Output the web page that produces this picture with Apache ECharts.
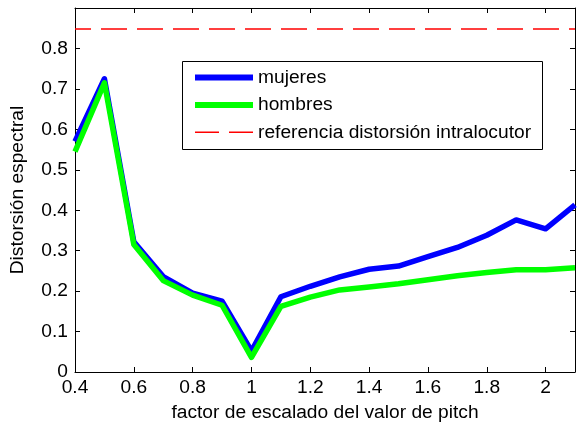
<!DOCTYPE html>
<html>
<head>
<meta charset="utf-8">
<script src="https://cdn.jsdelivr.net/npm/echarts@6/dist/echarts.min.js"></script>
<style>
html,body{margin:0;padding:0;background:#fff;}
#chart{width:578px;height:428px;}
</style>
</head>
<body>
<div id="chart"></div>
<script>
// Data
var xValues = [0.4, 0.5, 0.6, 0.7, 0.8, 0.9, 1.0, 1.1, 1.2, 1.3, 1.4, 1.5, 1.6, 1.7, 1.8, 1.9, 2.0, 2.1];
var mujeres = [0.57, 0.725, 0.322, 0.236, 0.195, 0.175, 0.052, 0.186, 0.212, 0.235, 0.254, 0.262, 0.285, 0.308, 0.338, 0.376, 0.354, 0.413];
var hombres = [0.545, 0.715, 0.315, 0.226, 0.19, 0.165, 0.036, 0.162, 0.185, 0.203, 0.21, 0.218, 0.228, 0.238, 0.246, 0.253, 0.253, 0.258];
var referenciaX = [0.4, 2.1];
var referenciaY = [0.848, 0.848];
var seriesNames = ['mujeres', 'hombres', 'referencia distorsión intralocutor'];
var xTitle = 'factor de escalado del valor de pitch';
var yTitle = 'Distorsión espectral';

function pairs(xs, ys) { return xs.map(function (x, i) { return [x, ys[i]]; }); }

var FONT = "'Liberation Sans', Arial, sans-serif";
var FS = 19.2;
var chart = echarts.init(document.getElementById('chart'), null, {renderer: 'canvas'});

function hideEnd(maxV) {
  return function (v) { return v > maxV + 1e-9 ? '' : String(+v.toFixed(2)); };
}

var axisCommon = {
  axisLine: {show: true, onZero: false, lineStyle: {color: '#000', width: 1}},
  axisTick: {show: true, inside: true, length: 5, lineStyle: {color: '#000', width: 1}},
  splitLine: {show: false}
};

var option = {
  animation: false,
  backgroundColor: '#fff',
  grid: {left: 75, right: 1, top: 8, bottom: 56, containLabel: false},
  xAxis: [
    Object.assign({
      type: 'value', min: 0.4, max: 2.1, interval: 0.2, position: 'bottom',
      name: xTitle, nameLocation: 'middle', nameGap: 31,
      nameTextStyle: {fontFamily: FONT, fontSize: FS, color: '#000'},
      axisLabel: {fontFamily: FONT, fontSize: FS, color: '#000', margin: 6, formatter: hideEnd(2.0)}
    }, axisCommon),
    Object.assign({
      type: 'value', min: 0.4, max: 2.1, interval: 0.2, position: 'top',
      axisLabel: {show: false}
    }, axisCommon)
  ],
  yAxis: [
    Object.assign({
      type: 'value', min: 0, max: 0.9, interval: 0.1, position: 'left',
      name: yTitle, nameLocation: 'middle', nameGap: 48,
      nameTextStyle: {fontFamily: FONT, fontSize: FS, color: '#000'},
      axisLabel: {fontFamily: FONT, fontSize: FS, color: '#000', margin: 7, formatter: hideEnd(0.8)}
    }, axisCommon),
    Object.assign({
      type: 'value', min: 0, max: 0.9, interval: 0.1, position: 'right',
      axisLabel: {show: false}
    }, axisCommon)
  ],
  graphic: [{
    type: 'rect', z: 3,
    shape: {x: 182.5, y: 61.5, width: 360, height: 88},
    style: {fill: '#fff', stroke: '#000', lineWidth: 1}
  }],
  legend: {
    z: 5,
    orient: 'vertical', left: 195, top: 68, padding: 0,
    itemWidth: 58, itemHeight: 6, itemGap: 8.4,
    textStyle: {fontFamily: FONT, fontSize: FS, color: '#000'},
    data: [
      {name: seriesNames[0], icon: 'path://M0,0H58V6H0Z', itemStyle: {color: '#0000ff'}},
      {name: seriesNames[1], icon: 'path://M0,0H58V6H0Z', itemStyle: {color: '#00ff00'}},
      {name: seriesNames[2], icon: 'path://M0,0M58,6M0,2.25H24V3.75H0ZM34,2.25H58V3.75H34Z', itemStyle: {color: '#ff0000'}}
    ]
  },
  series: [
    {
      name: seriesNames[0], type: 'line', xAxisIndex: 0, yAxisIndex: 0,
      data: pairs(xValues, mujeres), showSymbol: false, symbol: 'none',
      lineStyle: {color: '#0000ff', width: 5.5, join: 'round'}, itemStyle: {color: '#0000ff'}
    },
    {
      name: seriesNames[1], type: 'line', xAxisIndex: 0, yAxisIndex: 0,
      data: pairs(xValues, hombres), showSymbol: false, symbol: 'none',
      lineStyle: {color: '#00ff00', width: 5.5, join: 'round'}, itemStyle: {color: '#00ff00'}
    },
    {
      name: seriesNames[2], type: 'line', xAxisIndex: 0, yAxisIndex: 0,
      data: pairs(referenciaX, referenciaY), showSymbol: false, symbol: 'none',
      lineStyle: {color: '#ff0000', width: 1.5, type: [26, 10], dashOffset: 10}, itemStyle: {color: '#ff0000'}
    }
  ]
};
chart.setOption(option);
</script>
</body>
</html>
